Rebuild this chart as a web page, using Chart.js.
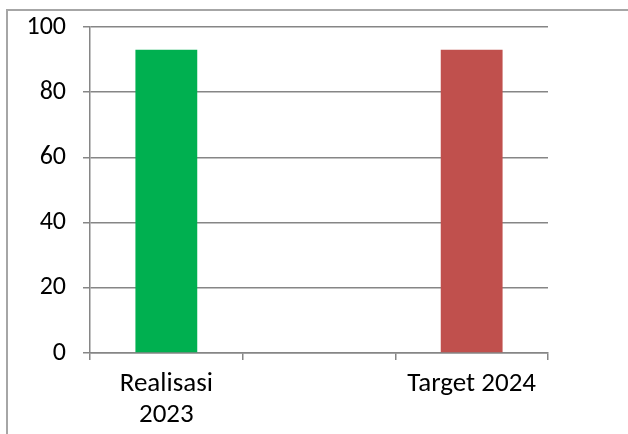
<!DOCTYPE html>
<html>
<head>
<meta charset="utf-8">
<script src="https://cdn.jsdelivr.net/npm/chart.js@4/dist/chart.umd.min.js"></script>
<style>
  html, body { margin: 0; padding: 0; background: #fff; overflow: hidden; }
  #frame { position: absolute; left: 6px; top: 9px; width: 700px; height: 500px; border: 2px solid #a6a6a6; box-sizing: border-box; }
  #wrap { position: absolute; left: 0; top: 0; width: 628px; height: 434px; }
</style>
</head>
<body>
<div id="frame"></div>
<div id="wrap"><canvas id="c"></canvas></div>
<script>
const categories = [["Realisasi", "2023"], "", "Target 2024"];
const values = [93, null, 93];
const barColors = ["#00B050", "rgba(0,0,0,0)", "#C0504D"];
const yTicks = [0, 20, 40, 60, 80, 100];

const FONT = "Carlito, Calibri, Lato, sans-serif";
const gridColor = "#868686";

new Chart(document.getElementById("c"), {
  type: "bar",
  data: {
    labels: categories,
    datasets: [{
      data: values,
      backgroundColor: barColors,
      borderWidth: 0,
      categoryPercentage: 1,
      barPercentage: 0.405
    }]
  },
  options: {
    responsive: true,
    maintainAspectRatio: false,
    animation: false,
    layout: { padding: { left: 0, right: 80, top: 27, bottom: 0 } },
    plugins: { legend: { display: false }, tooltip: { enabled: false } },
    scales: {
      x: {
        offset: true,
        grid: { display: true, offset: true, drawOnChartArea: false, drawTicks: true, tickLength: 7, color: gridColor, lineWidth: 1.5 },
        border: { display: true, color: gridColor, width: 1.5 },
        ticks: { color: "#000", font: { family: FONT, size: 27, lineHeight: 1.15 }, padding: 9, maxRotation: 0, autoSkip: false },
        afterFit: s => { s.height = 434 - 353; s.paddingLeft = 0; s.paddingRight = 0; }
      },
      y: {
        min: 0, max: 100,
        afterBuildTicks: s => { s.ticks = yTicks.map(v => ({ value: v })); },
        grid: { color: gridColor, lineWidth: 1.5, tickLength: 7 },
        border: { display: true, color: gridColor, width: 1.5 },
        ticks: { color: "#000", font: { family: FONT, size: 26 }, padding: 17 },
        afterFit: s => { s.width = 90; s.paddingTop = 0; s.paddingBottom = 0; }
      }
    }
  }
});
</script>
</body>
</html>
